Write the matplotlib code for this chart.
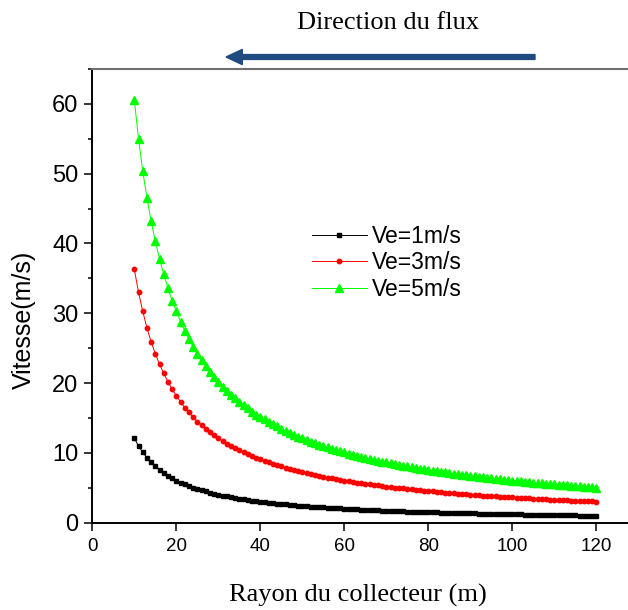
import matplotlib
matplotlib.use("Agg")
import matplotlib.pyplot as plt
from matplotlib.patches import FancyArrow
from matplotlib.ticker import MultipleLocator

# rayon du collecteur (m)
rayon = [10, 11, 12, 13, 14, 15, 16, 17, 18, 19, 20, 21, 22, 23, 24, 25, 26, 27, 28, 29,
         30, 31, 32, 33, 34, 35, 36, 37, 38, 39, 40, 41, 42, 43, 44, 45, 46, 47, 48, 49,
         50, 51, 52, 53, 54, 55, 56, 57, 58, 59, 60, 61, 62, 63, 64, 65, 66, 67, 68, 69,
         70, 71, 72, 73, 74, 75, 76, 77, 78, 79, 80, 81, 82, 83, 84, 85, 86, 87, 88, 89,
         90, 91, 92, 93, 94, 95, 96, 97, 98, 99, 100, 101, 102, 103, 104, 105, 106, 107,
         108, 109, 110, 111, 112, 113, 114, 115, 116, 117, 118, 119, 120]

# vitesse (m/s) pour Ve=1m/s
v1 = [12.10, 11.00, 10.08, 9.31, 8.64, 8.07, 7.56, 7.12, 6.72, 6.37, 6.05, 5.76, 5.50, 5.26,
      5.04, 4.84, 4.65, 4.48, 4.32, 4.17, 4.03, 3.90, 3.78, 3.67, 3.56, 3.46, 3.36, 3.27,
      3.18, 3.10, 3.03, 2.95, 2.88, 2.81, 2.75, 2.69, 2.63, 2.57, 2.52, 2.47, 2.42, 2.37,
      2.33, 2.28, 2.24, 2.20, 2.16, 2.12, 2.09, 2.05, 2.02, 1.98, 1.95, 1.92, 1.89, 1.86,
      1.83, 1.81, 1.78, 1.75, 1.73, 1.70, 1.68, 1.66, 1.64, 1.61, 1.59, 1.57, 1.55, 1.53,
      1.51, 1.49, 1.48, 1.46, 1.44, 1.42, 1.41, 1.39, 1.38, 1.36, 1.34, 1.33, 1.32, 1.30,
      1.29, 1.27, 1.26, 1.25, 1.23, 1.22, 1.21, 1.20, 1.19, 1.17, 1.16, 1.15, 1.14, 1.13,
      1.12, 1.11, 1.10, 1.09, 1.08, 1.07, 1.06, 1.05, 1.04, 1.03, 1.03, 1.02, 1.01]

# Ve=3m/s
v3 = [36.3, 33.0, 30.3, 27.9, 25.9, 24.2, 22.7, 21.4, 20.2, 19.1, 18.2, 17.3, 16.5, 15.8,
      15.1, 14.5, 14.0, 13.4, 13.0, 12.5, 12.1, 11.7, 11.3, 11.0, 10.7, 10.4, 10.1, 9.81,
      9.55, 9.31, 9.08, 8.85, 8.64, 8.44, 8.25, 8.07, 7.89, 7.72, 7.56, 7.41, 7.26, 7.12,
      6.98, 6.85, 6.72, 6.60, 6.48, 6.37, 6.26, 6.15, 6.05, 5.95, 5.85, 5.76, 5.67, 5.58,
      5.50, 5.42, 5.34, 5.26, 5.19, 5.11, 5.04, 4.97, 4.91, 4.84, 4.78, 4.71, 4.65, 4.59,
      4.54, 4.48, 4.43, 4.37, 4.32, 4.27, 4.22, 4.17, 4.13, 4.08, 4.03, 3.99, 3.95, 3.90,
      3.86, 3.82, 3.78, 3.74, 3.70, 3.67, 3.63, 3.59, 3.56, 3.52, 3.49, 3.46, 3.42, 3.39,
      3.36, 3.33, 3.30, 3.27, 3.24, 3.21, 3.18, 3.16, 3.13, 3.10, 3.08, 3.05, 3.03]

# Ve=5m/s
v5 = [60.5, 55.0, 50.4, 46.5, 43.2, 40.3, 37.8, 35.6, 33.6, 31.8, 30.3, 28.8, 27.5, 26.3,
      25.2, 24.2, 23.3, 22.4, 21.6, 20.9, 20.2, 19.5, 18.9, 18.3, 17.8, 17.3, 16.8, 16.4,
      15.9, 15.5, 15.1, 14.8, 14.4, 14.1, 13.8, 13.4, 13.2, 12.9, 12.6, 12.3, 12.1, 11.9,
      11.6, 11.4, 11.2, 11.0, 10.8, 10.6, 10.4, 10.3, 10.1, 9.92, 9.76, 9.60, 9.45, 9.31,
      9.17, 9.03, 8.90, 8.77, 8.64, 8.52, 8.40, 8.29, 8.18, 8.07, 7.96, 7.86, 7.76, 7.66,
      7.56, 7.47, 7.38, 7.29, 7.20, 7.12, 7.03, 6.95, 6.88, 6.80, 6.72, 6.65, 6.58, 6.51,
      6.44, 6.37, 6.30, 6.24, 6.17, 6.11, 6.05, 5.99, 5.93, 5.87, 5.82, 5.76, 5.71, 5.65,
      5.60, 5.55, 5.50, 5.45, 5.40, 5.35, 5.31, 5.26, 5.22, 5.17, 5.13, 5.08, 5.04]

labels = ["Ve=1m/s", "Ve=3m/s", "Ve=5m/s"]

sans = "Liberation Sans"
serif = "Liberation Serif"

fig = plt.figure(figsize=(6.28, 6.10), dpi=100)
ax = fig.add_axes([0.147, 0.143, 0.853, 0.744])

ax.plot(rayon, v1, color="black", lw=0.7, marker="s", ms=2.5, label=labels[0])
ax.plot(rayon, v3, color="red", lw=0.7, marker="o", ms=3.2, label=labels[1])
ax.plot(rayon, v5, color="#00ff00", lw=0.7, marker="^", ms=5.5, label=labels[2])

ax.set_xlim(0, 127.5)
ax.set_ylim(0, 65)
ax.xaxis.set_major_locator(MultipleLocator(20))
ax.yaxis.set_major_locator(MultipleLocator(10))
ax.yaxis.set_minor_locator(MultipleLocator(5))
ax.tick_params(which="major", direction="out", length=6, width=1.1)
ax.tick_params(which="minor", direction="out", length=3, width=1.1)
ax.tick_params(axis="x", labelsize=13.5, pad=5)
ax.tick_params(axis="y", labelsize=17, pad=4)
for lab in ax.get_xticklabels() + ax.get_yticklabels():
    lab.set_fontfamily(sans)

ax.spines["right"].set_visible(False)
ax.spines["top"].set_color("#707070")
ax.spines["top"].set_linewidth(1.5)
ax.spines["left"].set_linewidth(1.4)
ax.spines["bottom"].set_linewidth(1.4)

fig.text(24 / 628, 1 - 320 / 610, "Vitesse(m/s)", fontfamily=sans, fontsize=18,
         rotation=90, ha="center", va="center")
fig.text(358 / 628, 1 - 595 / 610, "Rayon du collecteur (m)", fontfamily=serif,
         fontsize=19, ha="center", va="center")

leg = ax.legend(loc="upper left", bbox_to_anchor=(0.41, 0.656), frameon=False,
                prop={"family": sans, "size": 16.5}, handlelength=2.4,
                handletextpad=0.2, labelspacing=0.15, borderpad=0, borderaxespad=0)

fig.text(0.618, 0.962, "Direction du flux", fontfamily=serif, fontsize=19,
         ha="center", va="center")
fig.patches.append(FancyArrow(
    535 / 628, 1 - 57 / 610, -(535 - 226) / 628, 0, width=0.008,
    head_width=0.025, head_length=0.026, length_includes_head=True,
    color="#1f4b80", transform=fig.transFigure, figure=fig))

fig.savefig("out.png", dpi=100)
